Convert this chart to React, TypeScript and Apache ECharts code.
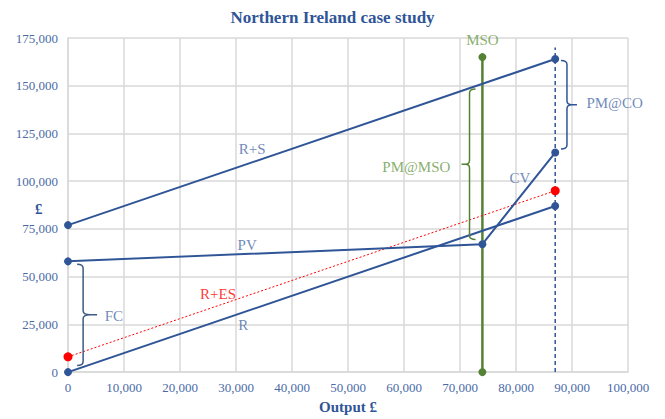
import React, { useEffect, useRef } from "react";
import * as echarts from "echarts";

// Axis ranges
const xMin = 0, xMax = 100000, xStep = 10000;
const yMin = 0, yMax = 175000, yStep = 25000;

// Series data
const rsX = [0, 87000];
const rsY = [77000, 164000];
const pvcvX = [0, 74000, 87000];
const pvcvY = [58000, 67000, 115000];
const rX = [0, 87000];
const rY = [0, 87000];
const resX = [0, 87000];
const resY = [8000, 95000];
const msoX = [74000, 74000];
const msoY = [0, 165000];
const coX = [87000, 87000];
const coY = [0, 170000];

// Braces: x position, low & high y, direction of tip (1 = right, -1 = left)
const braceNames = ["FC", "PM@MSO", "PM@CO"];
const braceX = [2700, 71700, 89100];
const braceLow = [3500, 69500, 116800];
const braceHigh = [56500, 148300, 163200];
const braceDir = [1, -1, 1];

// Annotation labels
const labelTexts = ["R+S", "PV", "R+ES", "R", "CV", "MSO", "CO", "FC", "PM@MSO", "PM@CO"];
const labelX = [32900, 32000, 26800, 31300, 80700, 74000, 86700, 8200, 62200, 97600];
const labelY = [116800, 66500, 41000, 24900, 101800, 174200, 176200, 29600, 107500, 140700];

const BLUE = "#2F5597";
const TXT_BLUE = "#4A6BA6";
const GREEN = "#548235";
const TXT_GREEN = "#6A9A46";
const RED = "#FF0000";
const GRID = "#D9D9D9";
const FONT = "'Liberation Serif', 'DejaVu Serif', serif";

const labelColors: Record<string, string> = {
  "R+S": TXT_BLUE, PV: TXT_BLUE, "R+ES": RED, R: TXT_BLUE, CV: TXT_BLUE,
  MSO: TXT_GREEN, CO: TXT_BLUE, FC: TXT_BLUE, "PM@MSO": TXT_GREEN, "PM@CO": TXT_BLUE,
};
const braceColors: Record<string, string> = { FC: "#3E5A84", "PM@MSO": GREEN, "PM@CO": BLUE };
const braceTip: Record<string, number> = { FC: 14, "PM@MSO": 8, "PM@CO": 10 };

const zip = (xs: number[], ys: number[]) => xs.map((x, i) => [x, ys[i]]);

export default function App() {
  const ref = useRef<HTMLDivElement>(null);
  useEffect(() => {
    if (!ref.current) return;
    document.body.style.margin = "0";
    const chart = echarts.init(ref.current, null, { renderer: "svg" });
    const fmt = (v: number) => v.toLocaleString("en-US");
    const lineSeries = (name: string, data: number[][], color: string, extra: any = {}) => ({
      type: "line",
      name,
      data,
      symbol: "circle",
      symbolSize: 8,
      lineStyle: { color, width: 2 },
      itemStyle: { color },
      z: 3,
      ...extra,
    });
    chart.setOption({
      animation: false,
      title: {
        text: "Northern Ireland case study",
        left: "center",
        top: 4,
        textStyle: { fontFamily: FONT, fontWeight: "bold", fontSize: 17, color: BLUE },
      },
      graphic: [
        {
          type: "text",
          left: 35,
          top: 201,
          style: { text: "£", fontFamily: FONT, fontWeight: "bold", fontSize: 15, fill: BLUE },
        },
      ],
      grid: { left: 68, right: 37, top: 38, bottom: 44 },
      xAxis: {
        type: "value",
        min: xMin,
        max: xMax,
        interval: xStep,
        name: "Output £",
        nameLocation: "middle",
        nameGap: 25,
        nameTextStyle: { fontFamily: FONT, fontWeight: "bold", fontSize: 15, color: BLUE },
        axisLine: { lineStyle: { color: GRID, width: 1.5 } },
        axisTick: { show: false },
        splitLine: { show: true, lineStyle: { color: GRID, width: 1.5 } },
        axisLabel: { formatter: fmt, fontFamily: FONT, fontSize: 13, color: TXT_BLUE, margin: 9 },
      },
      yAxis: {
        type: "value",
        min: yMin,
        max: yMax,
        interval: yStep,
        axisLine: { show: true, lineStyle: { color: GRID, width: 1.5 } },
        axisTick: { show: false },
        splitLine: { show: true, lineStyle: { color: GRID, width: 1.5 } },
        axisLabel: { formatter: fmt, fontFamily: FONT, fontSize: 13, color: TXT_BLUE, margin: 10 },
      },
      series: [
        lineSeries("MSO", zip(msoX, msoY), GREEN, { lineStyle: { color: GREEN, width: 2.5 }, z: 2 }),
        {
          type: "line",
          name: "CO",
          data: zip(coX, coY),
          symbol: "none",
          lineStyle: { color: BLUE, width: 1.5, type: [4, 3] },
          z: 2,
        },
        lineSeries("R+ES", zip(resX, resY), RED, { lineStyle: { color: RED, width: 1, type: [2, 2] }, symbolSize: 9 }),
        lineSeries("R+S", zip(rsX, rsY), BLUE),
        lineSeries("PV/CV", zip(pvcvX, pvcvY), BLUE),
        lineSeries("R", zip(rX, rY), BLUE),
        {
          type: "custom",
          name: "braces",
          clip: false,
          encode: { x: 0, y: [1, 2] },
          data: braceNames.map((n, i) => [braceX[i], braceLow[i], braceHigh[i], braceDir[i], i]),
          renderItem: (_p: any, api: any) => {
            const idx = api.value(4);
            const name = braceNames[idx];
            const d = api.value(3);
            const lo = api.coord([api.value(0), api.value(1)]);
            const hi = api.coord([api.value(0), api.value(2)]);
            const x = lo[0];
            const y1 = hi[1];
            const y2 = lo[1];
            const mid = (y1 + y2) / 2;
            const h = 6 * d;
            const r = 4;
            const t = braceTip[name] * d;
            const pathData =
              `M${x - h},${y1} Q${x},${y1} ${x},${y1 + r} L${x},${mid - r} ` +
              `Q${x},${mid} ${x + t * 0.5},${mid} L${x + t},${mid} M${x + t * 0.5},${mid} ` +
              `Q${x},${mid} ${x},${mid + r} L${x},${y2 - r} Q${x},${y2} ${x - h},${y2}`;
            return {
              type: "path",
              shape: { pathData },
              style: { stroke: braceColors[name], fill: "none", lineWidth: 1.5 },
            };
          },
          z: 4,
        },
        {
          type: "scatter",
          name: "labels",
          symbolSize: 1,
          itemStyle: { color: "rgba(0,0,0,0)" },
          data: labelTexts.map((t, i) => ({
            name: t,
            value: [labelX[i], labelY[i]],
            label: { color: labelColors[t] },
          })),
          label: {
            show: true,
            position: "inside",
            formatter: (p: any) => p.name,
            fontFamily: FONT,
            fontSize: 15,
            align: "center",
            verticalAlign: "middle",
          },
          z: 5,
        },
      ],
    });
    return () => chart.dispose();
  }, []);
  return <div ref={ref} style={{ width: 665, height: 419 }} />;
}
